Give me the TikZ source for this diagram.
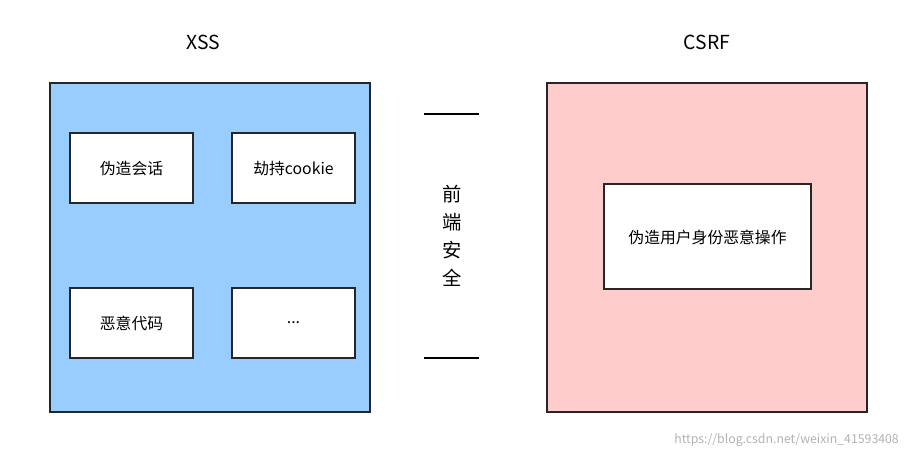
\documentclass[tikz,border=0pt]{standalone}
\usepackage{fontspec}
\setmainfont{Noto Sans CJK SC}
\begin{document}
\begin{tikzpicture}[x=0.02cm,y=-0.02cm,
    outer/.style={draw=black!85,line width=0.8pt},
    inner/.style={draw=black!85,fill=white,line width=0.8pt},
    lbl/.style={font=\fontsize{9}{11}\selectfont}]
  \useasboundingbox (0,0) rectangle (912,457);
  % XSS
  \node[lbl,font=\fontsize{11}{13}\selectfont] (xss) at (203,42) {XSS};
  \draw[outer,fill={rgb,255:red,153;green,204;blue,255}] (50,83) rectangle (370,412);
  \draw[inner] (70,133) rectangle (193,203);
  \node[lbl] (fake) at (131.5,168) {伪造会话};
  \draw[inner] (232,133) rectangle (355,203);
  \node[lbl] (cookie) at (293.5,168) {劫持cookie};
  \draw[inner] (70,288) rectangle (193,358);
  \node[lbl] (code) at (131.5,323) {恶意代码};
  \draw[inner] (232,288) rectangle (355,358);
  \node[lbl] (more) at (293.5,323) {...};
  % middle
  \draw[line width=0.8pt] (424,114) -- (479,114);
  \draw[line width=0.8pt] (424,358) -- (479,358);
  \node[lbl,font=\fontsize{11}{16}\selectfont,align=center] (sec) at (452,236) {前\\端\\安\\全};
  % CSRF
  \node[lbl,font=\fontsize{11}{13}\selectfont] (csrf) at (707,42) {CSRF};
  \draw[outer,fill={rgb,255:red,255;green,204;blue,204}] (547,83) rectangle (867,412);
  \draw[inner] (604,184) rectangle (811,289);
  \node[lbl] (op) at (707.5,237) {伪造用户身份恶意操作};
  % watermark
  \node[font=\fontsize{7}{9}\selectfont,text=black!30,anchor=east] (wm) at (905,440) {https://blog.csdn.net/weixin\_41593408};
\end{tikzpicture}
\end{document}
